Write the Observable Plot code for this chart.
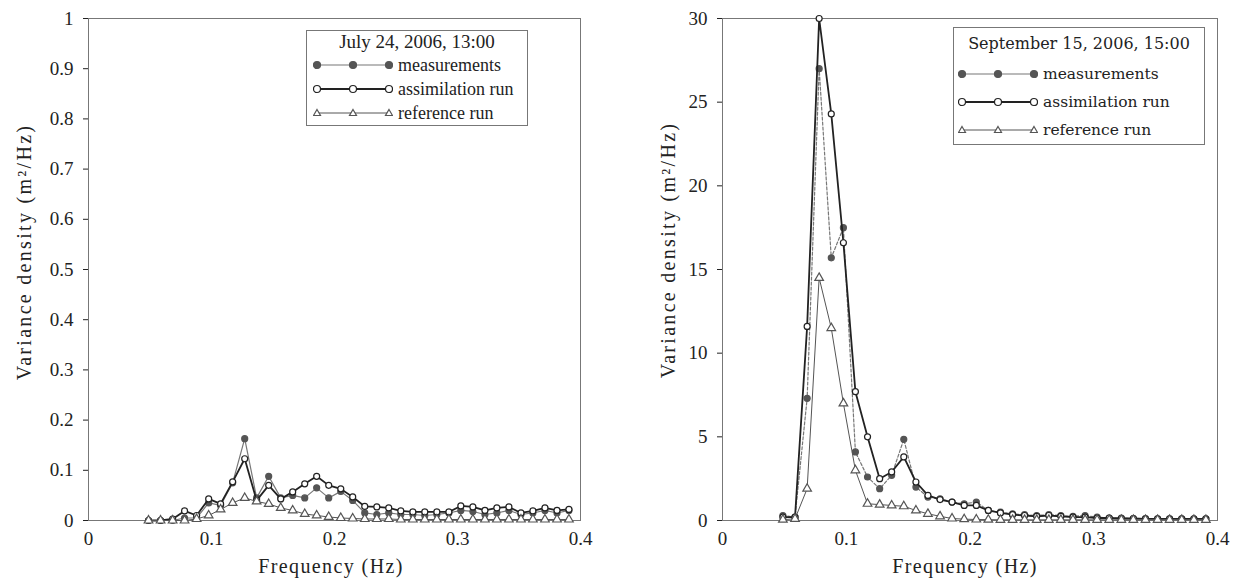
<!DOCTYPE html>
<html><head><meta charset="utf-8">
<script src="https://cdn.jsdelivr.net/npm/d3@7"></script>
<script src="https://cdn.jsdelivr.net/npm/@observablehq/plot@0.6"></script>
<style>
body{margin:0;background:#fff;width:1242px;height:583px;overflow:hidden;font-family:"Liberation Serif","DejaVu Serif",serif;color:#222;}
.panel{position:absolute;top:0;}
.ytitle{position:absolute;font-size:20px;letter-spacing:2.3px;white-space:nowrap;transform:translate(-50%,-50%) rotate(-90deg);}
.xtitle{position:absolute;font-size:20px;letter-spacing:1.4px;white-space:nowrap;transform:translate(-50%,-50%);}
.legend{position:absolute;border:1px solid #777;background:#fff;box-sizing:border-box;}
.legend .ttl{text-align:center;}
.legend .row{display:flex;align-items:center;}
.legend svg{margin-right:5px;flex:none;}
</style></head><body>
<script>
// frequencies (Hz)
const freq = [0.0488,0.0586,0.0684,0.0781,0.0879,0.0977,0.1074,0.1172,0.1270,0.1367,0.1465,0.1563,0.1660,0.1758,0.1855,0.1953,0.2051,0.2148,0.2246,0.2344,0.2441,0.2539,0.2637,0.2734,0.2832,0.2930,0.3027,0.3125,0.3223,0.3320,0.3418,0.3516,0.3613,0.3711,0.3809,0.3906];
// July 24, 2006, 13:00
const julyMeas  = [0,0,0,0.005,0.005,0.035,0.03,0.075,0.163,0.045,0.088,0.045,0.05,0.045,0.065,0.045,0.058,0.04,0.015,0.012,0.015,0.012,0.012,0.01,0.012,0.015,0.02,0.018,0.012,0.015,0.02,0.012,0.015,0.02,0.015,0.02];
const julyAssim = [0,0,0.003,0.019,0.01,0.043,0.033,0.077,0.123,0.04,0.07,0.043,0.057,0.073,0.088,0.07,0.063,0.047,0.028,0.027,0.025,0.019,0.017,0.017,0.017,0.017,0.029,0.027,0.02,0.025,0.027,0.015,0.019,0.025,0.02,0.022];
const julyRef   = [0,0,0,0,0.003,0.01,0.022,0.035,0.045,0.038,0.033,0.025,0.02,0.013,0.01,0.007,0.005,0.004,0.003,0.003,0.003,0.002,0.002,0.002,0.002,0.002,0.002,0.002,0.002,0.002,0.002,0.002,0.002,0.002,0.002,0.002];
// September 15, 2006, 15:00
const sepMeas  = [0.3,0.2,7.3,27,15.7,17.5,4.1,2.6,1.9,2.7,4.85,2.0,1.4,1.3,1.1,1.0,1.1,0.6,0.5,0.4,0.35,0.3,0.35,0.3,0.25,0.3,0.2,0.15,0.15,0.12,0.12,0.1,0.1,0.1,0.1,0.1];
const sepAssim = [0.2,0.2,11.6,30,24.3,16.6,7.7,5.0,2.5,2.9,3.8,2.3,1.5,1.25,1.1,0.9,0.9,0.6,0.45,0.35,0.3,0.25,0.3,0.25,0.2,0.2,0.15,0.15,0.12,0.12,0.1,0.1,0.1,0.1,0.1,0.1];
const sepRef   = [0.05,0.1,1.9,14.5,11.5,7.0,3.0,1.0,0.95,0.9,0.85,0.6,0.4,0.25,0.12,0.08,0.06,0.05,0.04,0.04,0.04,0.04,0.04,0.04,0.04,0.04,0.04,0.04,0.04,0.04,0.04,0.04,0.04,0.04,0.04,0.04];
// ticks and labels
const xTicks = [0,0.1,0.2,0.3,0.4];
const leftYTicks = [0,0.1,0.2,0.3,0.4,0.5,0.6,0.7,0.8,0.9,1];
const rightYTicks = [0,5,10,15,20,25,30];
const seriesNames = ["measurements","assimilation run","reference run"];
const leftTitle = "July 24, 2006, 13:00";
const rightTitle = "September 15, 2006, 15:00";
const xLabel = "Frequency (Hz)";
const yLabel = "Variance density (m\u00B2/Hz)";

const styles = {
  "measurements": {stroke:"#777", width:1.2, fill:"#555", dotStroke:"#555", symbol:"circle"},
  "assimilation run": {stroke:"#222", width:1.8, fill:"white", dotStroke:"#222", symbol:"circle"},
  "reference run": {stroke:"#555", width:1, fill:"white", dotStroke:"#555", symbol:"triangle"}
};

function toRows(vals){ return freq.map((f,i)=>({f, v: vals[i]})); }

function makeChart(opts){
  const marks = [Plot.frame({stroke:"#777"})];
  opts.series.forEach((vals,i)=>{
    const st = styles[seriesNames[i]];
    const rows = toRows(vals);
    marks.push(Plot.line(rows,{x:"f",y:"v",stroke:st.stroke,strokeWidth:st.width,strokeDasharray:opts.dashMeas && i===0 ? "3,2" : null}));
    marks.push(Plot.dot(rows,{x:"f",y:"v",r:st.symbol==="triangle"?3.2:3,symbol:st.symbol,fill:st.fill,stroke:st.dotStroke,strokeWidth:1.2}));
  });
  return Plot.plot({
    width: opts.width, height: 583,
    marginLeft: opts.ml, marginRight: opts.mr, marginTop: 18, marginBottom: 63,
    style:{fontFamily:'"Liberation Serif", serif', fontSize:"19px", color:"#222", background:"transparent"},
    x:{domain:[0,0.4], ticks:xTicks, tickFormat:d=>String(d), label:null, tickSize:0, tickPadding:11},
    y:{domain:opts.ydomain, ticks:opts.yticks, tickFormat:d=>String(d), label:null, tickSize:5, tickPadding:10},
    marks
  });
}

function legendSample(name){
  const st = styles[name];
  const w = 80, h = 14;
  const ns = "http://www.w3.org/2000/svg";
  const svg = document.createElementNS(ns,"svg");
  svg.setAttribute("width",w); svg.setAttribute("height",h);
  const line = document.createElementNS(ns,"line");
  line.setAttribute("x1",4); line.setAttribute("x2",w-4); line.setAttribute("y1",h/2); line.setAttribute("y2",h/2);
  line.setAttribute("stroke",st.stroke); line.setAttribute("stroke-width",st.width);
  svg.appendChild(line);
  [4,w/2,w-4].forEach(cx=>{
    let m;
    if(st.symbol==="triangle"){
      m = document.createElementNS(ns,"path");
      m.setAttribute("d",`M${cx},${h/2-3.5}L${cx+3.5},${h/2+2.5}L${cx-3.5},${h/2+2.5}Z`);
    } else {
      m = document.createElementNS(ns,"circle");
      m.setAttribute("cx",cx); m.setAttribute("cy",h/2); m.setAttribute("r",3.5);
    }
    m.setAttribute("fill",st.fill); m.setAttribute("stroke",st.dotStroke); m.setAttribute("stroke-width",1.2);
    svg.appendChild(m);
  });
  return svg;
}

function makeLegend(o){
  const box = document.createElement("div");
  box.className = "legend";
  Object.assign(box.style,{left:o.left+"px",top:o.top+"px",width:o.width+"px",height:o.height+"px",padding:o.pad,fontFamily:o.font,fontSize:o.size+"px"});
  const t = document.createElement("div"); t.className="ttl"; t.textContent = o.title;
  t.style.fontSize = o.tsize+"px"; t.style.height = o.th+"px"; t.style.lineHeight = o.th+"px";
  box.appendChild(t);
  seriesNames.forEach(n=>{
    const r = document.createElement("div"); r.className="row"; r.style.height = o.rowH+"px";
    r.appendChild(legendSample(n));
    const s = document.createElement("span"); s.textContent = n; r.appendChild(s);
    box.appendChild(r);
  });
  return box;
}

function addText(cls, txt, x, y){
  const d = document.createElement("div"); d.className = cls; d.textContent = txt;
  d.style.left = x+"px"; d.style.top = y+"px"; document.body.appendChild(d);
}

// left panel
const p1 = document.createElement("div"); p1.className="panel"; p1.style.left="0px";
p1.appendChild(makeChart({width:620, ml:88, mr:40, ydomain:[0,1], yticks:leftYTicks, series:[julyMeas,julyAssim,julyRef]}));
document.body.appendChild(p1);
// right panel
const p2 = document.createElement("div"); p2.className="panel"; p2.style.left="621px";
p2.appendChild(makeChart({width:621, ml:101, mr:25, ydomain:[0,30], yticks:rightYTicks, series:[sepMeas,sepAssim,sepRef], dashMeas:true}));
document.body.appendChild(p2);

addText("ytitle", yLabel, 24, 252);
addText("ytitle", yLabel, 668, 250);
addText("xtitle", xLabel, 331, 566);
addText("xtitle", xLabel, 965, 566);

document.body.appendChild(makeLegend({title:leftTitle,left:306,top:30,width:222,height:96,pad:"0 6px",font:'"Liberation Serif", serif',size:18,tsize:19,th:22,rowH:24}));
document.body.appendChild(makeLegend({title:rightTitle,left:953,top:27,width:252,height:118,pad:"0 4px",font:'"DejaVu Serif", serif',size:15.5,tsize:16,th:32,rowH:28}));
</script>
</body></html>
